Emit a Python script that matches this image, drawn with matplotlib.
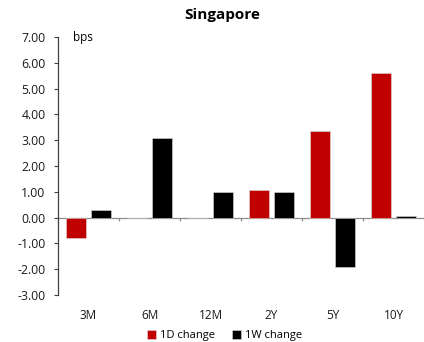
import matplotlib.pyplot as plt
import numpy as np

plt.rcParams['font.family'] = ['Open Sans', 'DejaVu Sans']

tenors = ["3M", "6M", "12M", "2Y", "5Y", "10Y"]
chg_1d = [-0.80, 0.00, 0.00, 1.07, 3.37, 5.62]
chg_1w = [0.28, 3.10, 0.98, 0.98, -1.93, 0.07]
yticks = [-3, -2, -1, 0, 1, 2, 3, 4, 5, 6, 7]

red = "#C00000"
grey = "#8c8c8c"

fig = plt.figure(figsize=(4.24, 3.42), dpi=100)
ax = fig.add_axes([58 / 424, 1 - 295 / 342, 1 - 58 / 424, (295 - 37) / 342])

x = np.arange(len(tenors))
w = 0.33
ax.bar(x - 0.205, chg_1d, w, color=red, edgecolor="#d9d9d9", linewidth=0.4, label="1D change")
ax.bar(x + 0.205, chg_1w, w, color="black", edgecolor="#d9d9d9", linewidth=0.4, label="1W change")

ax.set_xlim(-0.5, len(tenors) - 0.5)
ax.set_ylim(-3, 7)

# zero line with category separators
ax.axhline(0, color=grey, lw=0.9, zorder=0)
ax.vlines(np.arange(len(tenors) - 1) + 0.5, -0.15, 0, color=grey, lw=0.9)

for s in ["top", "right", "bottom"]:
    ax.spines[s].set_visible(False)
ax.spines["left"].set_color("#404040")
ax.spines["left"].set_linewidth(0.9)

ax.set_yticks(yticks)
ax.set_yticklabels([f"{v:.2f}" for v in yticks])
ax.tick_params(axis="y", length=3, width=0.8, color="#404040", labelsize=8.8,
               labelcolor="#1a1a1a", pad=6)
ax.set_xticks(x)
ax.set_xticklabels(tenors)
ax.tick_params(axis="x", length=0, labelsize=8.5, labelcolor="#1a1a1a", pad=10)

ax.text(0.04, 1.0, "bps", transform=ax.transAxes, fontsize=8.5, va="center")
fig.text(0.523, 0.955, "Singapore", ha="center", va="center", fontsize=11, fontweight="bold")

fig.legend(loc="center", bbox_to_anchor=(0.53, 0.018), ncol=2, frameon=False,
           fontsize=8, handlelength=0.8, handleheight=0.8, handletextpad=0.4,
           columnspacing=1.5)

fig.savefig("out.png", dpi=100)
